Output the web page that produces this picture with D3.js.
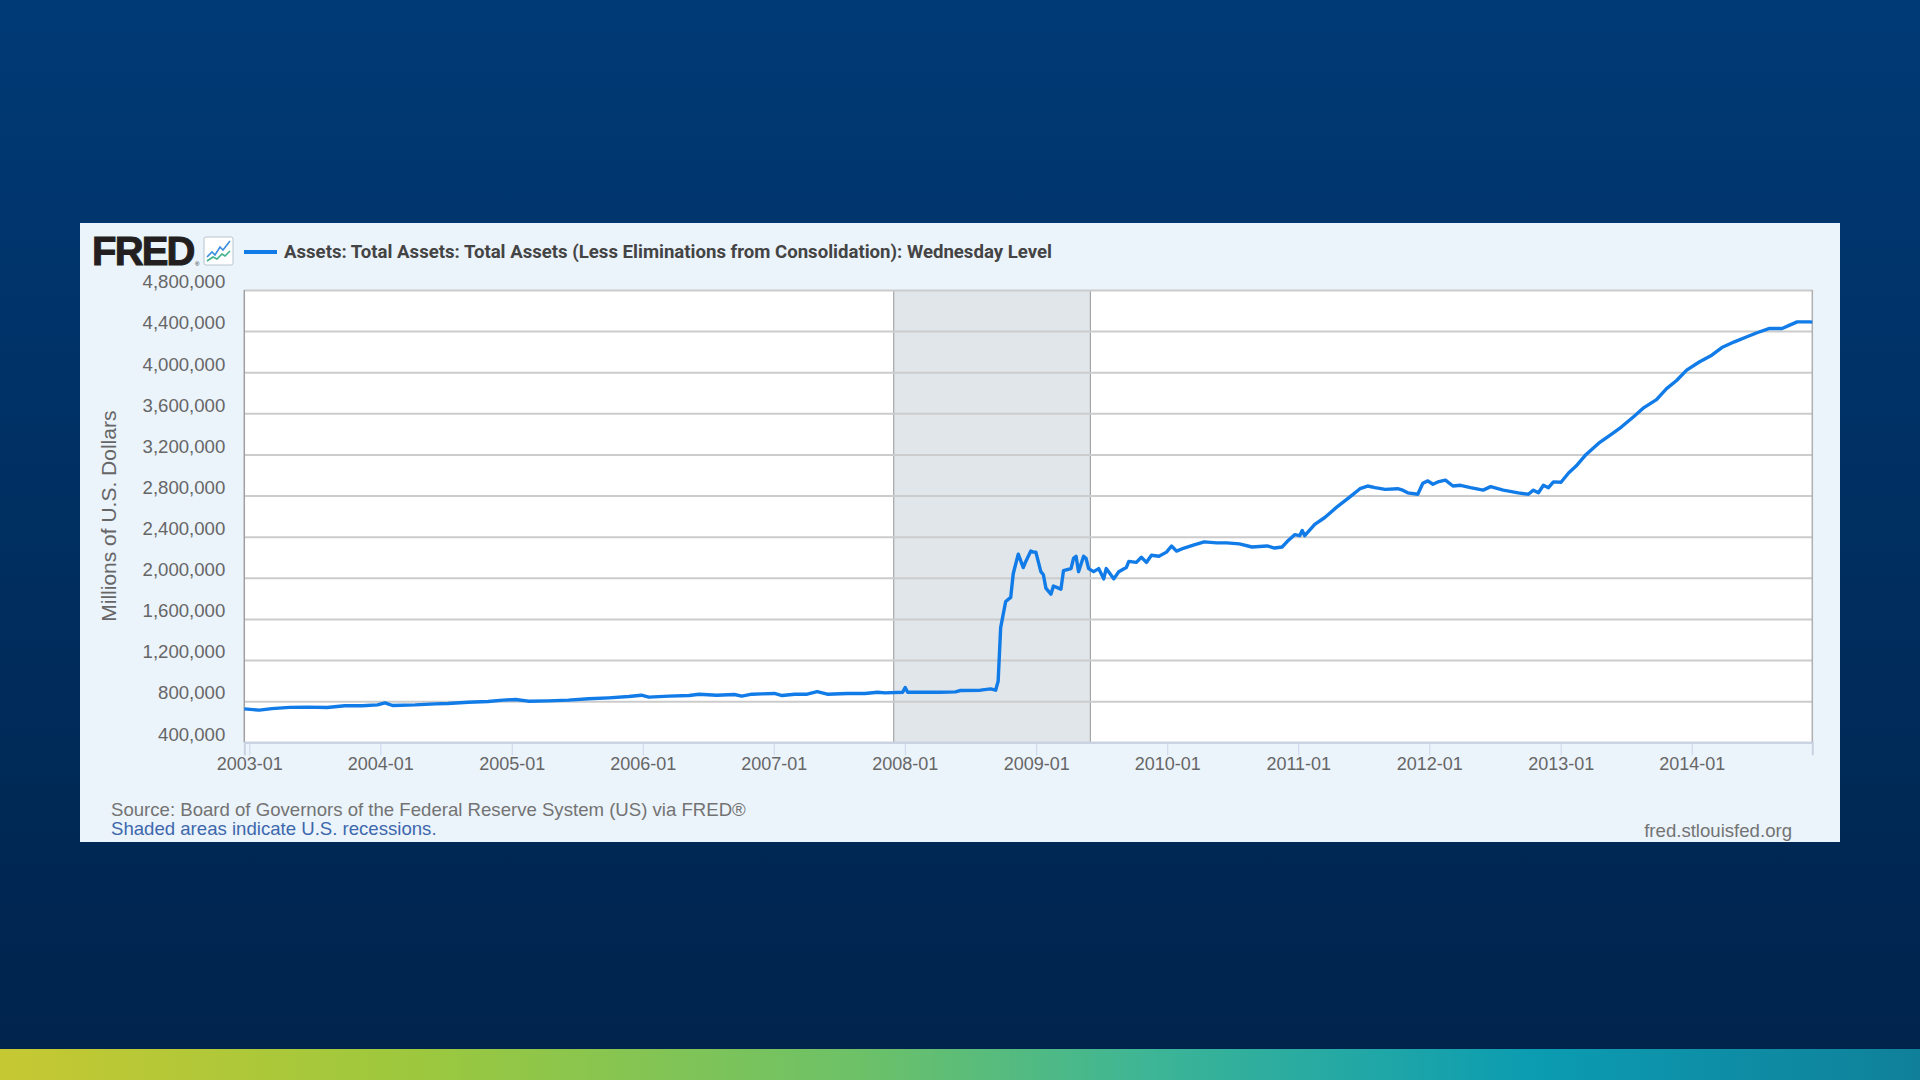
<!DOCTYPE html>
<html>
<head>
<meta charset="utf-8">
<script src="https://cdn.jsdelivr.net/npm/d3@7"></script>
<style>
  html, body { margin: 0; padding: 0; background: #002b5c; }
  svg { display: block; }
  .tick text { font-family: "Liberation Sans", Arial, sans-serif; }
</style>
</head>
<body>
<div id="chart"></div>
<script>
// WALCL, millions of U.S. dollars
const dates = [
  "2002-12-18", "2003-01-29", "2003-03-05", "2003-04-23", "2003-06-11", "2003-08-06",
  "2003-09-24", "2003-11-12", "2003-12-24", "2004-01-14", "2004-02-04", "2004-04-07",
  "2004-06-02", "2004-07-07", "2004-09-01", "2004-10-27", "2004-12-08", "2005-01-12",
  "2005-02-16", "2005-04-13", "2005-06-08", "2005-08-03", "2005-09-28", "2005-11-23",
  "2005-12-28", "2006-01-18", "2006-03-15", "2006-05-10", "2006-06-07", "2006-07-26",
  "2006-09-13", "2006-10-04", "2006-11-01", "2006-11-29", "2007-01-03", "2007-01-24",
  "2007-02-28", "2007-04-04", "2007-05-02", "2007-05-30", "2007-07-25", "2007-09-12",
  "2007-10-17", "2007-11-07", "2007-12-26", "2008-01-02", "2008-01-09", "2008-02-13",
  "2008-04-09", "2008-05-21", "2008-06-04", "2008-07-30", "2008-08-27", "2008-09-10",
  "2008-09-17", "2008-09-24", "2008-10-08", "2008-10-22", "2008-10-29", "2008-11-12",
  "2008-11-26", "2008-12-03", "2008-12-17", "2008-12-24", "2008-12-31", "2009-01-14",
  "2009-01-21", "2009-01-28", "2009-02-11", "2009-02-18", "2009-03-04", "2009-03-11",
  "2009-03-18", "2009-04-08", "2009-04-15", "2009-04-22", "2009-04-29", "2009-05-13",
  "2009-05-20", "2009-05-27", "2009-06-10", "2009-06-24", "2009-07-08", "2009-07-15",
  "2009-08-05", "2009-08-19", "2009-09-09", "2009-09-16", "2009-10-07", "2009-10-21",
  "2009-11-04", "2009-11-18", "2009-12-09", "2009-12-30", "2010-01-13", "2010-01-27",
  "2010-02-17", "2010-03-17", "2010-04-14", "2010-05-19", "2010-06-16", "2010-07-21",
  "2010-08-25", "2010-10-06", "2010-10-27", "2010-11-17", "2010-12-01", "2010-12-22",
  "2011-01-05", "2011-01-12", "2011-01-19", "2011-02-16", "2011-03-16", "2011-04-20",
  "2011-05-25", "2011-06-22", "2011-07-13", "2011-08-03", "2011-08-31", "2011-10-05",
  "2011-10-19", "2011-11-02", "2011-11-30", "2011-12-14", "2011-12-28", "2012-01-11",
  "2012-01-25", "2012-02-15", "2012-03-07", "2012-03-28", "2012-04-25", "2012-05-30",
  "2012-06-20", "2012-07-25", "2012-09-05", "2012-10-03", "2012-10-17", "2012-10-31",
  "2012-11-14", "2012-11-28", "2012-12-12", "2013-01-02", "2013-01-23", "2013-02-13",
  "2013-03-13", "2013-04-17", "2013-05-22", "2013-06-19", "2013-07-24", "2013-08-21",
  "2013-09-25", "2013-10-23", "2013-11-20", "2013-12-18", "2014-01-22", "2014-02-26",
  "2014-03-26", "2014-04-30", "2014-06-04", "2014-07-02", "2014-08-06", "2014-09-10",
  "2014-10-01", "2014-10-22", "2014-11-26", "2014-12-03"
];
const assets = [
  725000, 713000, 728000, 740000, 742000, 738000,
  756000, 755000, 764000, 784000, 758000, 764000,
  774000, 777000, 790000, 797000, 810000, 816000,
  800000, 803000, 810000, 823000, 832000, 845000,
  858000, 839000, 849000, 855000, 868000, 858000,
  865000, 849000, 868000, 871000, 875000, 855000,
  868000, 868000, 894000, 868000, 875000, 875000,
  887000, 881000, 887000, 933000, 887000, 887000,
  887000, 891000, 904000, 907000, 920000, 907000,
  994000, 1515000, 1770000, 1810000, 2040000, 2230000,
  2100000, 2160000, 2260000, 2250000, 2250000, 2060000,
  2030000, 1900000, 1840000, 1920000, 1900000, 1890000,
  2070000, 2090000, 2190000, 2210000, 2060000, 2210000,
  2190000, 2090000, 2060000, 2090000, 1990000, 2090000,
  1990000, 2060000, 2100000, 2160000, 2150000, 2200000,
  2150000, 2220000, 2210000, 2250000, 2310000, 2260000,
  2290000, 2320000, 2350000, 2340000, 2340000, 2330000,
  2300000, 2310000, 2290000, 2300000, 2353000, 2420000,
  2410000, 2460000, 2410000, 2520000, 2587000, 2693000,
  2787000, 2867000, 2893000, 2877000, 2860000, 2867000,
  2853000, 2827000, 2813000, 2920000, 2943000, 2910000,
  2933000, 2950000, 2893000, 2900000, 2877000, 2853000,
  2887000, 2853000, 2827000, 2813000, 2853000, 2827000,
  2900000, 2877000, 2933000, 2930000, 3020000, 3087000,
  3200000, 3310000, 3396000, 3467000, 3570000, 3656000,
  3733000, 3840000, 3920000, 4020000, 4100000, 4166000,
  4240000, 4296000, 4345000, 4384000, 4426000, 4426000,
  4458000, 4490000, 4490000, 4488000
];
const yTicks = [400000, 800000, 1200000, 1600000, 2000000, 2400000, 2800000, 3200000, 3600000, 4000000, 4400000, 4800000];
const xTicks = ["2003-01-01", "2004-01-01", "2005-01-01", "2006-01-01", "2007-01-01", "2008-01-01",
  "2009-01-01", "2010-01-01", "2011-01-01", "2012-01-01", "2013-01-01", "2014-01-01"];
const recession = ["2007-12-01", "2009-06-01"];

const parse = d3.timeParse("%Y-%m-%d");
const series = dates.map((d, i) => ({ date: parse(d), value: assets[i] }));

const W = 1920, H = 1080;
const plot = { left: 244.3, right: 1812.3, top: 290, bottom: 742.3 };

const svg = d3.select("#chart").append("svg")
  .attr("width", W)
  .attr("height", H);

// page background + bottom colour strip
const defs = svg.append("defs");
const bg = defs.append("linearGradient").attr("id", "bg").attr("x1", 0).attr("y1", 0).attr("x2", 0).attr("y2", 1);
bg.append("stop").attr("offset", "0%").attr("stop-color", "#003a76");
bg.append("stop").attr("offset", "100%").attr("stop-color", "#00234b");
const strip = defs.append("linearGradient").attr("id", "strip");
[["0%", "#c6c832"], ["22%", "#9cc83e"], ["45%", "#6cc168"], ["60%", "#3db596"], ["80%", "#0b9cb2"], ["100%", "#10809a"]]
  .forEach(s => strip.append("stop").attr("offset", s[0]).attr("stop-color", s[1]));

svg.append("rect").attr("width", W).attr("height", H).attr("fill", "url(#bg)");
svg.append("rect").attr("x", 0).attr("y", 1049).attr("width", W).attr("height", 31).attr("fill", "url(#strip)");

// card
svg.append("rect").attr("x", 80).attr("y", 223).attr("width", 1760).attr("height", 619).attr("fill", "#ebf3fb");

const x = d3.scaleTime()
  .domain([parse("2002-12-18"), parse("2014-12-03")])
  .range([plot.left, plot.right]);
const y = d3.scaleLinear()
  .domain([400000, 4800000])
  .range([plot.bottom, plot.top]);

// plot area + recession band
svg.append("rect")
  .attr("x", plot.left).attr("y", plot.top)
  .attr("width", plot.right - plot.left).attr("height", plot.bottom - plot.top)
  .attr("fill", "#ffffff");

const r0 = x(parse(recession[0])), r1 = x(parse(recession[1]));
svg.append("rect")
  .attr("x", r0).attr("y", plot.top)
  .attr("width", r1 - r0).attr("height", plot.bottom - plot.top)
  .attr("fill", "#e1e6ea");
[r0, r1].forEach(v => svg.append("line")
  .attr("x1", v).attr("x2", v).attr("y1", plot.top).attr("y2", plot.bottom)
  .attr("stroke", "#a6a6a6").attr("stroke-width", 1.2));

// y axis with gridlines
const yAxis = d3.axisLeft(y)
  .tickValues(yTicks)
  .tickSize(-(plot.right - plot.left))
  .tickPadding(19)
  .tickFormat(d3.format(","));
const yg = svg.append("g")
  .attr("transform", `translate(${plot.left},0)`)
  .call(yAxis);
yg.select(".domain").remove();
yg.selectAll(".tick line").attr("stroke", "#cccccc").attr("stroke-width", 2);
yg.selectAll(".tick text")
  .attr("fill", "#666666")
  .attr("font-size", 18.6)
  .attr("dy", "-0.12em");

// plot frame (left/right borders)
svg.append("line").attr("x1", plot.left).attr("x2", plot.left).attr("y1", plot.top).attr("y2", plot.bottom)
  .attr("stroke", "#a0a0a0").attr("stroke-width", 1.5);
svg.append("line").attr("x1", plot.right).attr("x2", plot.right).attr("y1", plot.top).attr("y2", plot.bottom)
  .attr("stroke", "#b0b0b0").attr("stroke-width", 1.5);

// x axis
const xAxis = d3.axisBottom(x)
  .tickValues(xTicks.map(parse))
  .tickSize(13)
  .tickPadding(2)
  .tickFormat(d3.timeFormat("%Y-%m"));
const xg = svg.append("g")
  .attr("transform", `translate(0,${plot.bottom})`)
  .call(xAxis);
xg.select(".domain").attr("stroke", "#c8d2e2").attr("stroke-width", 2);
xg.selectAll(".tick line").attr("stroke", "#ccd6eb");
xg.selectAll(".tick text").attr("fill", "#666666").attr("font-size", 18);

// the series
const line = d3.line()
  .x(d => x(d.date))
  .y(d => y(d.value));
svg.append("path")
  .datum(series)
  .attr("fill", "none")
  .attr("stroke", "#117be8")
  .attr("stroke-width", 3.4)
  .attr("stroke-linejoin", "round")
  .attr("d", line);

// y title
svg.append("text")
  .attr("transform", `translate(108,${(plot.top + plot.bottom) / 2}) rotate(-90)`)
  .attr("text-anchor", "middle")
  .attr("dominant-baseline", "central")
  .attr("font-family", "Liberation Sans, Arial, sans-serif")
  .attr("font-size", 21)
  .attr("fill", "#666666")
  .text("Millions of U.S. Dollars");

// header: FRED logo, icon, legend
svg.append("text")
  .attr("x", 92).attr("y", 265)
  .attr("font-family", "Liberation Sans, Arial, sans-serif")
  .attr("font-weight", "bold")
  .attr("font-size", 40)
  .attr("letter-spacing", -1.8)
  .attr("fill", "#231f20")
  .attr("stroke", "#231f20")
  .attr("stroke-width", 1)
  .text("FRED");
svg.append("text")
  .attr("x", 195).attr("y", 266)
  .attr("font-family", "Liberation Sans, Arial, sans-serif")
  .attr("font-size", 6)
  .attr("fill", "#231f20")
  .text("®");

const icon = svg.append("g").attr("transform", "translate(204,237)");
icon.append("rect").attr("width", 29).attr("height", 28).attr("rx", 2)
  .attr("fill", "#ffffff").attr("stroke", "#b8c4d0").attr("stroke-width", 1);
icon.append("path").attr("d", "M3,20 L8,15 L11,18 L16,10 L19,13 L26,4")
  .attr("fill", "none").attr("stroke", "#3b8de0").attr("stroke-width", 1.6);
icon.append("path").attr("d", "M3,24 L9,20 L13,22 L18,17 L21,19 L26,14")
  .attr("fill", "none").attr("stroke", "#3fb38f").attr("stroke-width", 1.6);

svg.append("line").attr("x1", 244).attr("x2", 277).attr("y1", 252).attr("y2", 252)
  .attr("stroke", "#117be8").attr("stroke-width", 4);
svg.append("text")
  .attr("x", 284).attr("y", 257.5)
  .attr("font-family", "Roboto, sans-serif")
  .attr("font-weight", "bold")
  .attr("font-size", 18.6)
  .attr("fill", "#444444")
  .text("Assets: Total Assets: Total Assets (Less Eliminations from Consolidation): Wednesday Level");

// footer
svg.append("text")
  .attr("x", 111).attr("y", 816)
  .attr("font-family", "Liberation Sans, Arial, sans-serif")
  .attr("font-size", 18.6)
  .attr("fill", "#737373")
  .text("Source: Board of Governors of the Federal Reserve System (US) via FRED®");
svg.append("text")
  .attr("x", 111).attr("y", 835)
  .attr("font-family", "Liberation Sans, Arial, sans-serif")
  .attr("font-size", 18.6)
  .attr("fill", "#3d68ad")
  .text("Shaded areas indicate U.S. recessions.");
svg.append("text")
  .attr("x", 1792).attr("y", 837)
  .attr("text-anchor", "end")
  .attr("font-family", "Liberation Sans, Arial, sans-serif")
  .attr("font-size", 18.6)
  .attr("fill", "#737373")
  .text("fred.stlouisfed.org");
</script>
</body>
</html>
